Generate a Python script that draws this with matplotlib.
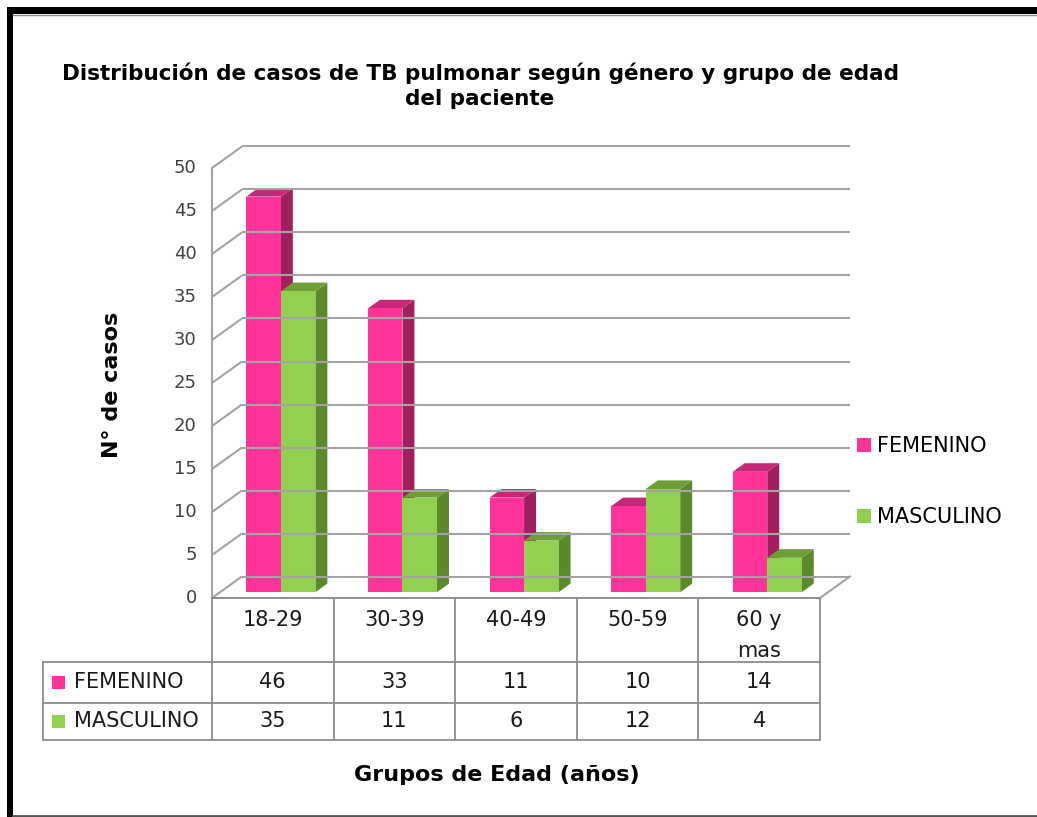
import matplotlib
matplotlib.use("Agg")
import matplotlib.pyplot as plt
from matplotlib.patches import Polygon, Rectangle, Patch
from matplotlib.lines import Line2D

# ---- data -----------------------------------------------------------------
categories = ["18-29", "30-39", "40-49", "50-59", "60 y\nmas"]
femenino = [46, 33, 11, 10, 14]
masculino = [35, 11, 6, 12, 4]
series_names = ["FEMENINO", "MASCULINO"]
y_ticks = [0, 5, 10, 15, 20, 25, 30, 35, 40, 45, 50]

title = "Distribución de casos de TB pulmonar según género y grupo de edad\ndel paciente"
x_label = "Grupos de Edad (años)"
y_label = "N° de casos"

# ---- style ----------------------------------------------------------------
pink = {"front": "#FF3399", "top": "#C62877", "side": "#A21F5E"}
green = {"front": "#92D050", "top": "#6E9E35", "side": "#5B8A2C"}
grid_c = "#a3a3a3"
table_c = "#8c8c8c"
body_fs = 15

W, H = 1037, 817
fig = plt.figure(figsize=(W / 100, H / 100), dpi=100)
fig.patch.set_facecolor("white")


def fx(px):
    return px / W


def fy(py):
    return 1 - py / H


# oblique projection of the depth axis (in category / value units)
DX = 0.246
DY = 2.5
PX_CAT = 121.6   # pixels per category
PX_VAL = 8.6     # pixels per value unit

ax = fig.add_axes([fx(212), fy(598), (850 - 212) / W, (598 - 140) / H])
ax.set_xlim(-0.5, -0.5 + (850 - 212) / PX_CAT)
ax.set_ylim(0, (598 - 140) / PX_VAL)
ax.axis("off")

n = len(categories)
x0, x1 = -0.5, n - 0.5
top_val = y_ticks[-1]

# walls: left side wall diagonals and back wall gridlines
for v in y_ticks:
    ax.plot([x0, x0 + DX], [v, v + DY], color=grid_c, lw=1.5, clip_on=False,
            solid_capstyle="butt")
    ax.plot([x0 + DX, x1 + DX], [v + DY, v + DY], color=grid_c, lw=1.5,
            clip_on=False, solid_capstyle="butt")
ax.plot([x0, x0], [0, top_val], color=grid_c, lw=1.5, clip_on=False)
ax.plot([x1, x1 + DX], [0, DY], color=grid_c, lw=1.5, clip_on=False)
ax.plot([x0, x1], [0, 0], color=table_c, lw=1.4, clip_on=False)

# y tick labels on the front plane
for v in y_ticks:
    ax.text(x0 - 0.125, v, str(v), ha="right", va="center", fontsize=13,
            color="#404040")

# 3D columns
Z0, DZ = 0.27, 0.40
BW = 0.284


def column(xl, h, cols):
    ox, oy = Z0 * DX, Z0 * DY
    bx, by = DZ * DX, DZ * DY
    xa, xb = xl + ox, xl + BW + ox
    ya, yb = oy, h + oy
    ax.add_patch(Polygon([(xb, ya), (xb + bx, ya + by), (xb + bx, yb + by), (xb, yb)],
                         closed=True, facecolor=cols["side"], edgecolor="none"))
    ax.add_patch(Polygon([(xa, yb), (xb, yb), (xb + bx, yb + by), (xa + bx, yb + by)],
                         closed=True, facecolor=cols["top"], edgecolor="none"))
    ax.add_patch(Polygon([(xa, ya), (xb, ya), (xb, yb), (xa, yb)],
                         closed=True, facecolor=cols["front"], edgecolor="none"))


for i in range(n):
    column(i - BW, femenino[i], pink)
    column(i, masculino[i], green)

# ---- data table under the axis -------------------------------------------
tab = fig.add_axes([fx(212), fy(740), (850 - 212) / W, (740 - 598) / H])
tab.set_xlim(ax.get_xlim())
tab.set_ylim(3.6, 0)
tab.axis("off")

label_left = -0.5 - (213 - 44) / PX_CAT
rows = [0, 1.62, 2.66, 3.6]
lw_t = 1.3
# vertical lines
for k in range(n + 1):
    tab.plot([x0 + k, x0 + k], [rows[0], rows[-1]], color=table_c, lw=lw_t,
             clip_on=False)
tab.plot([label_left, label_left], [rows[1], rows[-1]], color=table_c, lw=lw_t,
         clip_on=False)
# horizontal lines
for r in rows[1:]:
    tab.plot([label_left, x1], [r, r], color=table_c, lw=lw_t, clip_on=False)

# header cells
for i, c in enumerate(categories):
    for j, line in enumerate(c.split("\n")):
        tab.text(i, 0.56 + j * 0.79, line, ha="center", va="center",
                 fontsize=body_fs, color="#1a1a1a")

# value cells
for r, (vals, cols, name) in enumerate(zip([femenino, masculino], [pink, green],
                                          series_names)):
    yc = (rows[r + 1] + rows[r + 2]) / 2
    sq_w = 13 / PX_CAT
    sq_h = 13 / 39.4
    tab.add_patch(Rectangle((label_left + 9 / PX_CAT, yc - sq_h / 2), sq_w, sq_h,
                            facecolor=cols["front"], edgecolor="none",
                            clip_on=False))
    tab.text(label_left + 31 / PX_CAT, yc, name, ha="left", va="center",
             fontsize=body_fs, color="#1a1a1a", clip_on=False)
    for i, v in enumerate(vals):
        tab.text(i, yc, str(v), ha="center", va="center", fontsize=body_fs,
                 color="#1a1a1a")

# ---- legend ---------------------------------------------------------------
handles = [Patch(facecolor=pink["front"], edgecolor="none"),
           Patch(facecolor=green["front"], edgecolor="none")]
fig.legend(handles, series_names, loc="center left",
           bbox_to_anchor=(fx(857), fy(481.5)), frameon=False, fontsize=body_fs,
           handlelength=0.67, handleheight=0.67, handletextpad=0.3,
           labelspacing=2.45, borderpad=0, borderaxespad=0)

# ---- titles ---------------------------------------------------------------
fig.text(fx(480), fy(86), title, ha="center", va="center", fontsize=15.5,
         fontweight="bold", linespacing=1.3, multialignment="center")
fig.text(fx(497), fy(775), x_label, ha="center", va="center", fontsize=16,
         fontweight="bold")
fig.text(fx(112), fy(385), y_label, ha="center", va="center", fontsize=16,
         fontweight="bold", rotation=90)

# ---- frame ----------------------------------------------------------------
fig.add_artist(Rectangle((fx(7), fy(14)), 1 - fx(7), 7 / H, transform=fig.transFigure,
                         facecolor="black", edgecolor="none"))
fig.add_artist(Rectangle((fx(7), 0), 6 / W, fy(7), transform=fig.transFigure,
                         facecolor="black", edgecolor="none"))
fig.add_artist(Line2D([fx(13), 1], [fy(15), fy(15)], transform=fig.transFigure,
                      color="#8a8a8a", lw=1))
fig.add_artist(Line2D([fx(13), 1], [fy(815.5), fy(815.5)], transform=fig.transFigure,
                      color="#555555", lw=2))

fig.savefig("out.png", dpi=100, facecolor="white")
